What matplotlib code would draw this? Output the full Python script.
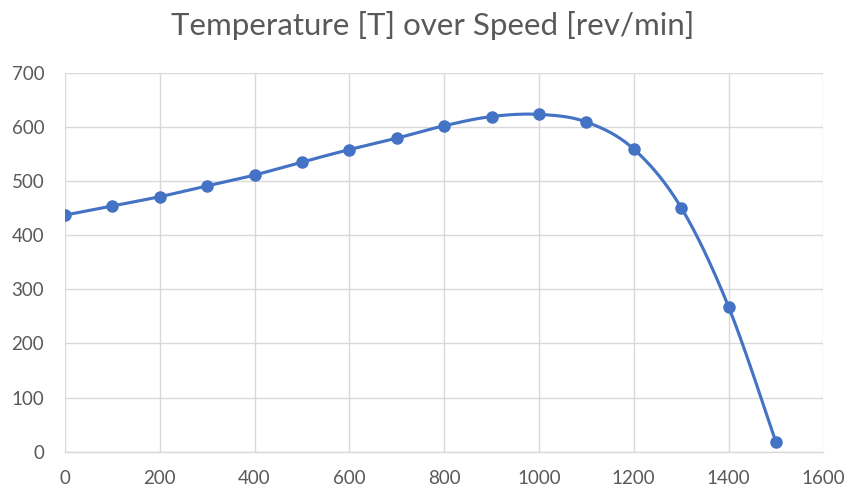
import numpy as np
import matplotlib
matplotlib.use("Agg")
import matplotlib.pyplot as plt

speed = [0, 100, 200, 300, 400, 500, 600, 700, 800, 900, 1000, 1100, 1200, 1300, 1400, 1500]
temperature = [437, 454, 471, 491, 511, 535, 558, 579, 602, 619, 623, 609, 559, 451, 268, 18]
x_ticks = [0, 200, 400, 600, 800, 1000, 1200, 1400, 1600]
y_ticks = [0, 100, 200, 300, 400, 500, 600, 700]
title = "Temperature [T] over Speed [rev/min]"

def smooth(xs, ys, n=30):
    xs = np.asarray(xs, float); ys = np.asarray(ys, float)
    px = np.concatenate([[xs[0]], xs, [xs[-1]]])
    py = np.concatenate([[ys[0]], ys, [ys[-1]]])
    outx, outy = [], []
    t = np.linspace(0, 1, n)
    for i in range(1, len(px) - 2):
        p0 = np.array([px[i], py[i]]); p3 = np.array([px[i + 1], py[i + 1]])
        c1 = p0 + (np.array([px[i + 1], py[i + 1]]) - np.array([px[i - 1], py[i - 1]])) / 6
        c2 = p3 - (np.array([px[i + 2], py[i + 2]]) - np.array([px[i], py[i]])) / 6
        b = ((1 - t) ** 3)[:, None] * p0 + (3 * (1 - t) ** 2 * t)[:, None] * c1 + \
            (3 * (1 - t) * t ** 2)[:, None] * c2 + (t ** 3)[:, None] * p3
        outx.extend(b[:, 0]); outy.extend(b[:, 1])
    return outx, outy

plt.rcParams['font.family'] = ['Lato', 'DejaVu Sans']
fig = plt.figure(figsize=(8.46, 4.91), dpi=100)
ax = fig.add_axes([65 / 846, 1 - 451.7 / 491, (823.3 - 65) / 846, (451.7 - 72.7) / 491])

sx, sy = smooth(speed, temperature)
ax.plot(sx, sy, color='#4472C4', lw=2.25, zorder=3, solid_capstyle='round')
ax.plot(speed, temperature, 'o', color='#4472C4', ms=8, zorder=4)

ax.set_xlim(0, 1600)
ax.set_ylim(0, 700)
ax.set_xticks(x_ticks)
ax.set_yticks(y_ticks)
ax.tick_params(length=0, labelsize=13.5, colors='#595959')
ax.tick_params(axis='y', pad=15)
ax.tick_params(axis='x', pad=13)
ax.grid(True, color='#d9d9d9', lw=1)
ax.set_axisbelow(True)
for s in ['top', 'right', 'left']:
    ax.spines[s].set_visible(False)
ax.spines['bottom'].set_color('#d9d9d9')
ax.spines['bottom'].set_linewidth(1)
ax.spines['bottom'].set_zorder(1)

fig.text(433 / 846, 1 - 25 / 491, title, ha='center', va='center', fontsize=22.5, color='#595959')
fig.savefig('out.png', dpi=100)
